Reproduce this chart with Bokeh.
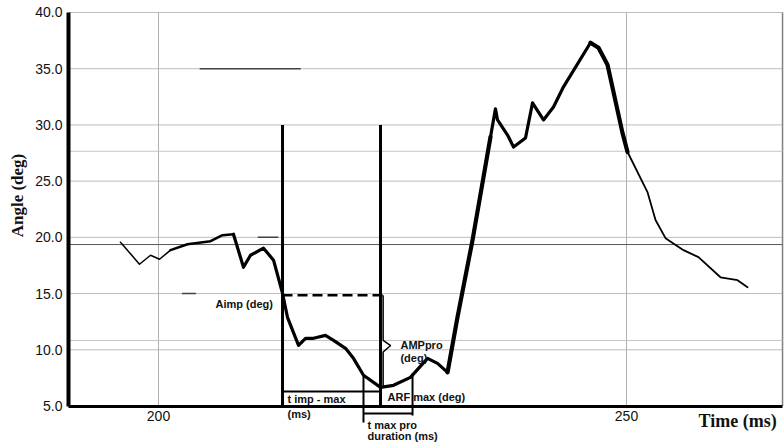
from bokeh.plotting import figure
from bokeh.models import Range1d, FixedTicker, PrintfTickFormatter, Label
from bokeh.embed import file_html
from bokeh.resources import INLINE
import math

# ---------------- data ----------------
time_ms = [195.94, 197.97, 199.15, 200.11, 201.28, 203.10, 205.56, 206.84, 208.01,
           209.08, 209.83, 211.22, 212.29, 213.25, 213.78, 214.96, 215.71, 216.56,
           217.84, 218.70, 219.98, 220.83, 221.90, 223.72, 225.11, 226.92, 228.74,
           229.81, 230.88, 231.94, 233.55, 235.47, 236.00, 236.22, 237.29, 237.93,
           239.21, 239.96, 241.13, 242.20, 243.27, 246.15, 247.01, 247.97, 249.57,
           250.11, 252.24, 253.10, 254.17, 256.09, 257.69, 260.04, 261.86, 262.93]
angle_deg = [19.57, 17.61, 18.41, 18.05, 18.86, 19.39, 19.66, 20.19, 20.28,
             17.34, 18.41, 19.04, 17.97, 15.03, 12.89, 10.39, 11.02, 11.02,
             11.28, 10.84, 10.13, 9.24, 7.73, 6.66, 6.84, 7.55, 9.24,
             8.79, 7.99, 12.89, 19.75, 28.93, 31.43, 30.44, 29.10, 28.04,
             28.84, 31.96, 30.44, 31.60, 33.39, 37.31, 36.86, 35.35, 29.29,
             27.59, 24.03, 21.54, 19.93, 18.86, 18.24, 16.45, 16.19, 15.56]

y_ticks = [5, 10, 15, 20, 25, 30, 35, 40]
x_ticks = [200, 250]
plot_x = [190.38, 266.67]     # extent of the plotting area (data units)
plot_y = [5, 40]
view_x = [183.12, 266.88]     # whole canvas (data units)
view_y = [1.487, 41.067]

# extra reference lines present on the original chart
ref_light = [27.66, 10.83]
ref_dark = [19.36]
short_seg_y = [35.0, 20.0, 15.0]
short_seg_x0 = [204.4, 210.6, 202.5]
short_seg_x1 = [215.2, 212.8, 204.0]

# annotation values
t_imp = 213.25
t_max = 223.72
marker_top = 30.0
a_imp = 14.85
brace_x = [224.0, 224.0, 224.8, 224.0, 224.0]
brace_y = [14.85, 10.83, 10.38, 9.80, 6.66]
dash_end = 224.0
t_imp_max_y = 6.29
pro_x = [221.9, 227.14]
pro_top = [7.8, 7.9]
pro_bottom = [3.53, 4.15]
pro_bar_y = 4.33

# (text, x, y)
notes = [("Aimp (deg)", 206.09, 14.03),
         ("AMPpro", 225.85, 10.47),
         ("(deg)", 225.85, 9.31),
         ("ARF max (deg)", 224.47, 5.76),
         ("t imp - max", 213.78, 5.58),
         ("(ms)", 213.78, 4.33),
         ("t max pro", 222.33, 3.35),
         ("duration (ms)", 222.33, 2.29)]

# ---------------- figure ----------------
p = figure(width=784, height=445, output_backend="svg", toolbar_location=None,
           x_range=Range1d(*view_x), y_range=Range1d(*view_y),
           min_border_left=0, min_border_right=0, min_border_top=0, min_border_bottom=0)
p.background_fill_color = "white"
p.border_fill_color = "white"
p.outline_line_color = None
p.xgrid.visible = False
p.ygrid.visible = False

# grid lines restricted to the plotting area
p.segment(x0=[plot_x[0]] * len(y_ticks), x1=[plot_x[1]] * len(y_ticks),
          y0=y_ticks, y1=y_ticks, line_color="#bdbdbd", line_width=1)
p.segment(x0=x_ticks, x1=x_ticks, y0=[plot_y[0]] * len(x_ticks),
          y1=[plot_y[1]] * len(x_ticks), line_color="#b0b0b0", line_width=1)
# right border
p.segment(x0=[plot_x[1]], x1=[plot_x[1]], y0=[plot_y[0]], y1=[plot_y[1]],
          line_color="#808080", line_width=1.5)

# extra horizontal lines
p.segment(x0=[plot_x[0]] * len(ref_light), x1=[plot_x[1]] * len(ref_light),
          y0=ref_light, y1=ref_light, line_color="#c4c4c4", line_width=1)
p.segment(x0=[plot_x[0]] * len(ref_dark), x1=[plot_x[1]] * len(ref_dark),
          y0=ref_dark, y1=ref_dark, line_color="#555555", line_width=1)
p.segment(x0=short_seg_x0, x1=short_seg_x1, y0=short_seg_y, y1=short_seg_y,
          line_color="#444444", line_width=1.5)

# axes at fixed locations
p.yaxis.ticker = FixedTicker(ticks=y_ticks)
p.yaxis.formatter = PrintfTickFormatter(format="%.1f")
p.xaxis.ticker = FixedTicker(ticks=x_ticks)
p.yaxis.fixed_location = plot_x[0]
p.xaxis.fixed_location = plot_y[0]
p.yaxis.bounds = (plot_y[0], plot_y[1])
p.xaxis.bounds = (plot_x[0], plot_x[1])
for ax in (p.xaxis[0], p.yaxis[0]):
    ax.axis_line_color = "black"
    ax.major_tick_in = 0
    ax.major_tick_out = 0
    ax.minor_tick_in = 0
    ax.minor_tick_out = 0
    ax.major_label_text_font = "Liberation Sans"
    ax.major_label_text_font_size = "14px"
    ax.major_label_text_color = "#111111"
p.yaxis.axis_line_width = 4
p.xaxis.axis_line_width = 3
p.yaxis.major_label_standoff = 6
p.xaxis.major_label_standoff = 5

# the curve, drawn in pieces of differing stroke width
pieces = [(0, 4, 1.5), (4, 8, 2.5), (8, 28, 3.2), (28, 31, 4.2), (31, 41, 3.2),
          (41, 45, 4.2), (45, 53, 1.8)]
for a, b, w in pieces:
    p.line(time_ms[a:b + 1], angle_deg[a:b + 1], line_color="black", line_width=w,
           line_join="round", line_cap="round")

# marker verticals (t imp, t max)
p.segment(x0=[t_imp, t_max], x1=[t_imp, t_max], y0=[marker_top, marker_top],
          y1=[plot_y[0], plot_y[0]], line_color="black", line_width=3)
# dashed A imp line
p.line([t_imp, dash_end], [a_imp, a_imp], line_color="black", line_width=2.5,
       line_dash="10 5")
# brace for AMPpro
p.line(brace_x, brace_y, line_color="black", line_width=1.5)
# t imp - max bar
p.line([t_imp, t_max], [t_imp_max_y, t_imp_max_y], line_color="black", line_width=2)
# t max pro duration bracket
p.segment(x0=pro_x, x1=pro_x, y0=pro_top, y1=pro_bottom, line_color="black",
          line_width=2)
p.line(pro_x, [pro_bar_y, pro_bar_y], line_color="black", line_width=2)

for txt, xx, yy in notes:
    p.add_layout(Label(x=xx, y=yy, text=txt, text_font="Liberation Sans",
                       text_font_style="bold", text_font_size="11px",
                       text_color="#111111", text_baseline="middle", text_align="left"))

# axis titles
p.add_layout(Label(x=184.94, y=23.72, text="Angle (deg)", angle=math.pi / 2,
                   text_font="Liberation Serif", text_font_style="bold",
                   text_font_size="17px", text_align="center", text_baseline="middle",
                   text_color="#111111"))
p.add_layout(Label(x=257.69, y=3.71, text="Time (ms)", text_font="Liberation Serif",
                   text_font_style="bold", text_font_size="18px", text_align="left",
                   text_baseline="middle", text_color="#111111"))

open("out.html", "w").write(file_html(p, INLINE))
